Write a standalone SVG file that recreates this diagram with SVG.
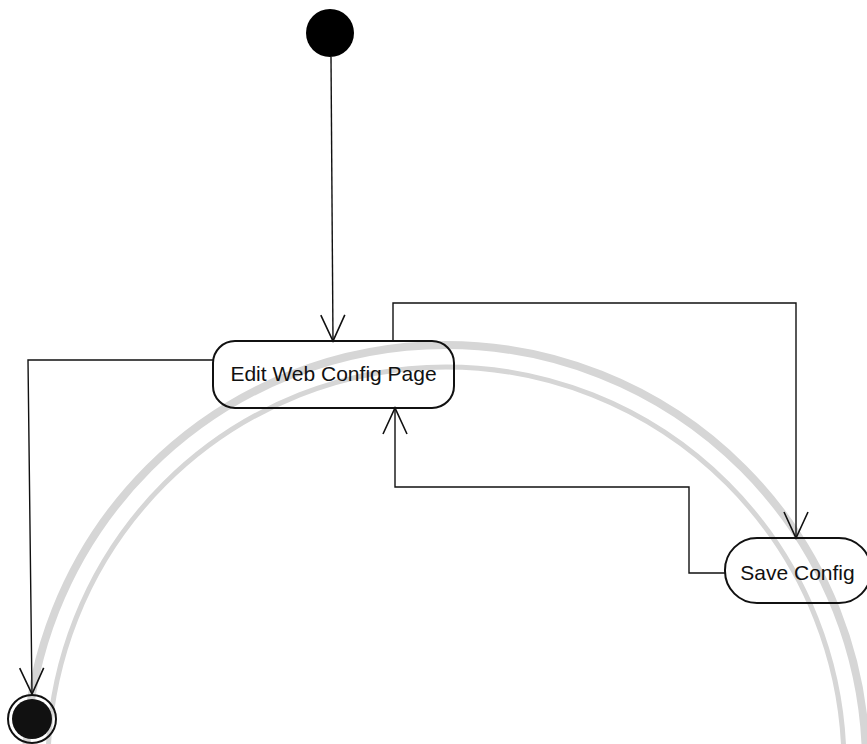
<svg xmlns="http://www.w3.org/2000/svg" width="867" height="744" viewBox="0 0 867 744">
<style>
.wm{fill:none;stroke:#d6d6d6}
.node{fill:none;stroke:#111;stroke-width:2}
.lbl{font-family:"Liberation Sans",Arial,sans-serif;font-size:21px;fill:#111;text-anchor:middle}
.edge{fill:none;stroke:#111;stroke-width:1.4}
</style>
<defs>
<marker id="arr" viewBox="0 0 30 30" refX="28" refY="15" markerWidth="30" markerHeight="30" markerUnits="userSpaceOnUse" orient="auto">
<path d="M2,3 L28,15 L2,27" fill="none" stroke="#111" stroke-width="1.6"/>
</marker>
</defs>
<rect width="867" height="744" fill="#fff"/>
<g id="watermark">
<circle class="wm" cx="446" cy="765" r="420" stroke-width="8"/>
<circle class="wm" cx="446" cy="765" r="398" stroke-width="5"/>
</g>
<g id="connectors">
<path class="edge" d="M331,57 L333,341" marker-end="url(#arr)"/>
<path class="edge" d="M393,341 L393,303 L796,303 L796,538" marker-end="url(#arr)"/>
<path class="edge" d="M725,573 L689,573 L689,487 L395,487 L395,408" marker-end="url(#arr)"/>
<path class="edge" d="M213,360 L28,360 L32,694" marker-end="url(#arr)"/>
</g>
<g id="start">
<circle cx="330" cy="33" r="24" fill="#000"/>
</g>
<g id="edit-web-config-page">
<rect class="node" x="213" y="341" width="241" height="67" rx="22" ry="22"/>
<text class="lbl" x="333.5" y="381">Edit Web Config Page</text>
</g>
<g id="save-config">
<rect class="node" x="725" y="538" width="146" height="65" rx="32" ry="32"/>
<text class="lbl" x="797.5" y="580">Save Config</text>
</g>
<g id="end">
<circle cx="32" cy="719" r="24" fill="none" stroke="#111" stroke-width="2"/>
<circle cx="32" cy="719" r="20" fill="#111"/>
</g>
</svg>
